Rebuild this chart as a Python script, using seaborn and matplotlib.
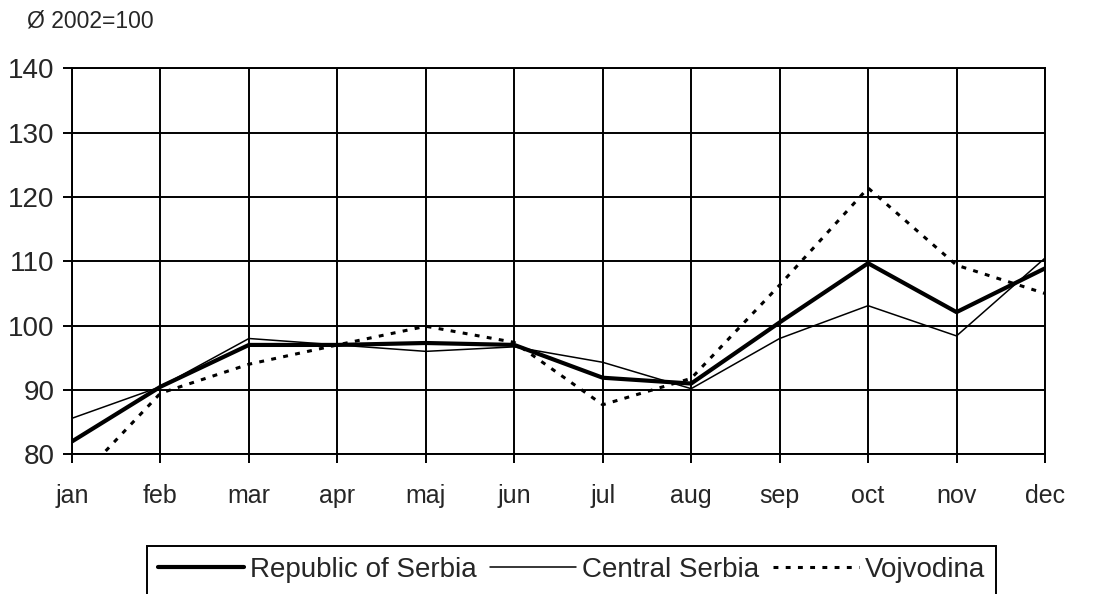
import matplotlib
matplotlib.use("Agg")
import matplotlib.pyplot as plt
from matplotlib.patches import Rectangle
import pandas as pd
import seaborn as sns

# months on the x axis
months = ['jan', 'feb', 'mar', 'apr', 'maj', 'jun', 'jul', 'aug', 'sep', 'oct', 'nov', 'dec']

# index values, average 2002 = 100
serbia = [82.0, 90.5, 97.0, 97.0, 97.3, 97.0, 91.9, 91.0, 100.5, 109.7, 102.1, 108.9]
central = [85.6, 90.5, 98.0, 97.0, 96.0, 96.7, 94.3, 90.2, 98.0, 103.1, 98.4, 110.5]
vojvodina = [75.0, 89.5, 94.0, 97.0, 99.9, 97.4, 87.7, 91.8, 106.3, 121.4, 109.4, 105.0]

series_names = ['Republic of Serbia', 'Central Serbia', 'Vojvodina']
y_ticks = [80, 90, 100, 110, 120, 130, 140]

sns.set_style("white")
plt.rcParams['font.family'] = ['Liberation Sans', 'DejaVu Sans']

df = pd.DataFrame({'month': months,
                   series_names[0]: serbia,
                   series_names[1]: central,
                   series_names[2]: vojvodina})

fig = plt.figure(figsize=(10.98, 5.94), dpi=100)
ax = fig.add_axes([0.0656, 0.2352, 0.9517 - 0.0656, 0.885 - 0.2352])

# line styles per series
styles = {
    series_names[0]: dict(linewidth=3.0, linestyle='-'),
    series_names[1]: dict(linewidth=1.1, linestyle='-'),
    series_names[2]: dict(linewidth=2.2, linestyle=(0, (1.6, 2.4))),
}
for name in series_names:
    sns.lineplot(data=df, x='month', y=name, ax=ax, color='black',
                 sort=False, label=name, **styles[name])

ax.set_xlim(0, len(months) - 1)
ax.set_ylim(y_ticks[0], y_ticks[-1])
ax.set_yticks(y_ticks)
ax.set_xticks(range(len(months)))
ax.set_xticklabels(months)
ax.set_xlabel('')
ax.set_ylabel('')

ax.grid(True, color='black', linewidth=1.4)
ax.set_axisbelow(True)
for sp in ax.spines.values():
    sp.set_color('black')
    sp.set_linewidth(1.4)

ax.tick_params(axis='y', direction='out', length=6.5, width=1.4, color='black',
               labelsize=20, pad=6, left=True)
ax.tick_params(axis='x', direction='out', length=6.5, width=1.4, color='black',
               labelsize=18, pad=15, bottom=True)

fig.text(27 / 1098, 1 - 21 / 594, 'Ø 2002=100', fontsize=16.5, ha='left', va='center')

# legend without its own frame; box drawn below so it runs off the bottom edge
ax.get_legend().remove()
leg = fig.legend(*ax.get_legend_handles_labels(), loc='upper center',
                 bbox_to_anchor=(0.5205, 1 - 546 / 594), ncol=3, fontsize=20,
                 frameon=False, handlelength=3.1, handletextpad=0.2,
                 columnspacing=0.5, borderpad=0.4, borderaxespad=0)

fig.canvas.draw()
bb = leg.get_window_extent().transformed(fig.transFigure.inverted())
fig.add_artist(Rectangle((bb.x0, -0.05), bb.width, bb.y1 + 0.05,
                         transform=fig.transFigure, fill=False,
                         edgecolor='black', linewidth=1.4))

fig.savefig('out.png', dpi=100)
